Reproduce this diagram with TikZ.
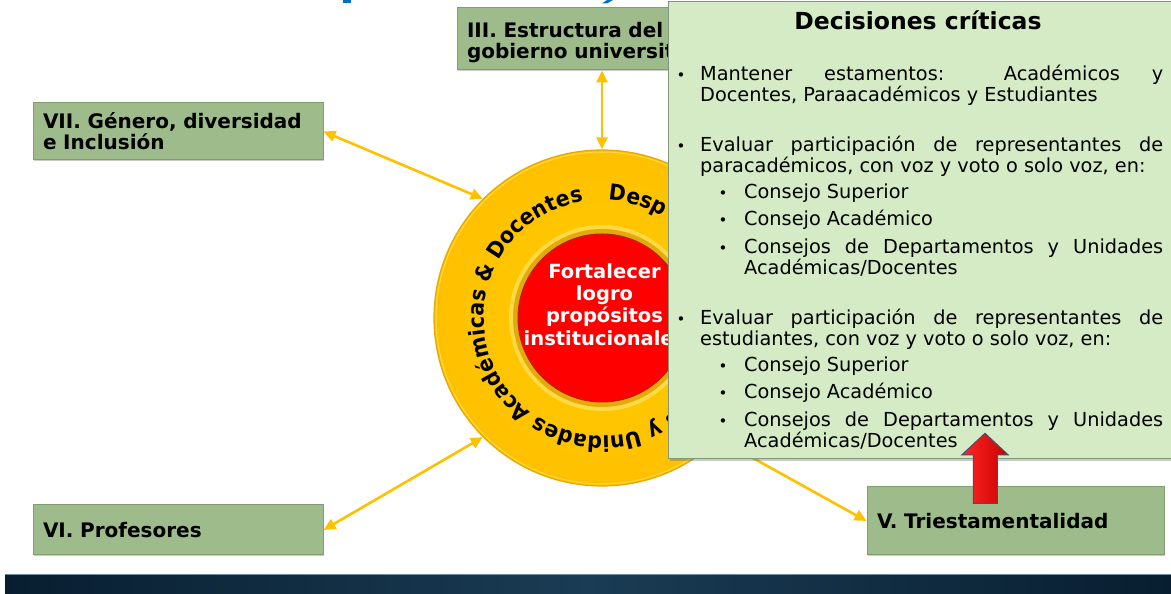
\documentclass[tikz,border=0pt]{standalone}
\usepackage{fontspec}
\setmainfont{DejaVu Sans}
\newfontfamily\circfont[FakeStretch=0.93]{DejaVu Sans}
\usetikzlibrary{arrows.meta,shadows,decorations.text,calc}
\definecolor{boxfill}{RGB}{158,187,139}
\definecolor{boxline}{RGB}{128,158,112}
\definecolor{panelfill}{RGB}{213,235,197}
\definecolor{panelline}{RGB}{130,150,120}
\definecolor{arrowor}{RGB}{255,192,0}
\definecolor{ringY}{RGB}{255,206,0}
\definecolor{ringYd}{RGB}{255,192,0}
\definecolor{ringedge}{RGB}{232,168,0}
\definecolor{groove}{RGB}{226,170,10}
\definecolor{groovelt}{RGB}{255,218,70}
\definecolor{redc}{RGB}{255,0,0}
\definecolor{redline}{RGB}{190,30,0}
\definecolor{navy}{RGB}{8,30,48}
\definecolor{navym}{RGB}{26,60,84}
\definecolor{navyline}{RGB}{110,140,160}
\definecolor{titleblue}{RGB}{0,112,192}
\definecolor{arrowedge}{RGB}{70,80,110}
\begin{document}
\begin{tikzpicture}[x=1pt,y=1pt,
  gbox/.style={draw=boxline, line width=1pt, fill=boxfill, inner xsep=10pt, inner ysep=0pt,
    align=left, font=\fontsize{20}{21}\selectfont\bfseries,
    drop shadow={shadow xshift=1pt,shadow yshift=-1.5pt,opacity=0.35,fill=black!60}},
  link/.style={arrowor, line width=2.6pt, {Triangle[length=12pt,width=11pt]}-{Triangle[length=12pt,width=11pt]}},
  bodytxt/.style={anchor=base west, inner sep=0pt, font=\fontsize{19.3}{22}\selectfont},
  bul/.style={anchor=base, inner sep=0pt, font=\fontsize{15}{15}\selectfont},
  ringtxt/.style={decorate, decoration={text along path, text align=left, text={|\circfont\bfseries\fontsize{22}{22}\selectfont|#1}}},
]
\useasboundingbox (0,0) rectangle (1171,594);

% title fragments at the top edge
\fill[titleblue] (343,590.5) rectangle (351,594);
\fill[titleblue] (602,590.5) -- (607,590.5) -- (613,594) -- (607,594) -- cycle;

% bottom bar
\shade[left color=navy, right color=navy, middle color=navym] (5,0) rectangle (1171,19);
\draw[navyline, line width=1pt] (5,19) -- (1171,19);

% central circle
\coordinate (C) at (602,276);
\node[circle, minimum size=336pt, inner sep=0pt, draw=ringedge, line width=1.2pt,
      inner color=ringY, outer color=ringYd] (ring) at (C) {};
\draw[groovelt, line width=1pt] (C) circle[radius=166];
\node[circle, minimum size=186pt, inner sep=0pt, fill=groovelt] (groove) at (C) {};
\node[circle, minimum size=178pt, inner sep=0pt, fill=groove] (groovein) at (C) {};
\node[circle, minimum size=168pt, inner sep=0pt, draw=redline, line width=1pt, fill=redc] (core) at (C) {};
\node[text=white, font=\fontsize{19.5}{22.3}\selectfont\bfseries, align=center, inner sep=0pt]
  (goal) at (604.5,289.7) {Fortalecer\\logro\\propósitos\\institucionales};

% text along the ring
\path[ringtxt={s y Unidades Académicas {\&} Docentes}]
   (C) ++(-52:118) arc[start angle=-52, end angle=-300, radius=118];
\path[ringtxt={Desp}]
   (C) ++(87:118) arc[start angle=87, end angle=0, radius=118];

% green boxes
\node[gbox, text width=270pt, minimum height=57pt] (g7) at (178,462.5) {VII. Género, diversidad\\e Inclusión};
\node[gbox, text width=270pt, minimum height=50pt] (g6) at (178,64) {VI. Profesores};
\node[gbox, text width=277pt, minimum height=68pt] (g5) at (1015.5,73) {V. Triestamentalidad};
\node[gbox, text width=303pt, minimum height=62pt] (g3) at (618.5,555) {\rule{0pt}{23pt}III. Estructura del\\gobierno universitario};

% connectors
\draw[link] (g7.east) -- (ring.135);
\draw[link] (g6.east) -- (ring.225);
\draw[link] (ring.north) -- (ring.north |- g3.south);
\draw[link] (ring.-46) -- (g5.west);

% decision panel
\node[draw=panelline, line width=1.2pt, fill=panelfill, minimum width=520pt, minimum height=457pt,
      anchor=north west, inner sep=0pt,
      drop shadow={shadow xshift=1.5pt,shadow yshift=-2pt,opacity=0.35,fill=black!60}] (panel) at (668,593) {};
\node[anchor=base, font=\fontsize{23.5}{25}\selectfont\bfseries, inner sep=0pt] (ptitle) at (918,564) {Decisiones críticas};

\node[bul] (b1) at (681,513.3) {•};
\node[bodytxt] (l1) at (700,513.3) {\makebox[463pt][s]{Mantener estamentos: Académicos y}};
\node[bodytxt] (l2) at (700,492.3) {Docentes, Paraacadémicos y Estudiantes};

\node[bul] (b2) at (681,442.3) {•};
\node[bodytxt] (l3) at (700,442.3) {\makebox[463pt][s]{Evaluar participación de representantes de}};
\node[bodytxt] (l4) at (700,421.2) {paracadémicos, con voz y voto o solo voz, en:};
\node[bul] (b21) at (723,395.7) {•};
\node[bodytxt] (l5) at (744,395.7) {Consejo Superior};
\node[bul] (b22) at (723,368.3) {•};
\node[bodytxt] (l6) at (744,368.3) {Consejo Académico};
\node[bul] (b23) at (723,340.7) {•};
\node[bodytxt] (l7) at (744,340.7) {\makebox[419pt][s]{Consejos de Departamentos y Unidades}};
\node[bodytxt] (l8) at (744,319) {Académicas/Docentes};

\node[bul] (b3) at (681,269.3) {•};
\node[bodytxt] (l9) at (700,269.3) {\makebox[463pt][s]{Evaluar participación de representantes de}};
\node[bodytxt] (l10) at (700,248) {estudiantes, con voz y voto o solo voz, en:};
\node[bul] (b31) at (723,222.7) {•};
\node[bodytxt] (l11) at (744,222.7) {Consejo Superior};
\node[bul] (b32) at (723,195.3) {•};
\node[bodytxt] (l12) at (744,195.3) {Consejo Académico};
\node[bul] (b33) at (723,167.5) {•};
\node[bodytxt] (l13) at (744,167.5) {\makebox[419pt][s]{Consejos de Departamentos y Unidades}};
\node[bodytxt] (l14) at (744,146.5) {Académicas/Docentes};

% red block arrow from V up into the panel
\draw[arrowedge, line width=1pt, left color=red!85!white, middle color=red, right color=red!80!black]
  (973.3,90.7) -- (973.3,139) -- (961.7,139) -- (985,160.7) -- (1008.3,139) -- (997.3,139) -- (997.3,90.7) -- cycle;
\end{tikzpicture}
\end{document}
